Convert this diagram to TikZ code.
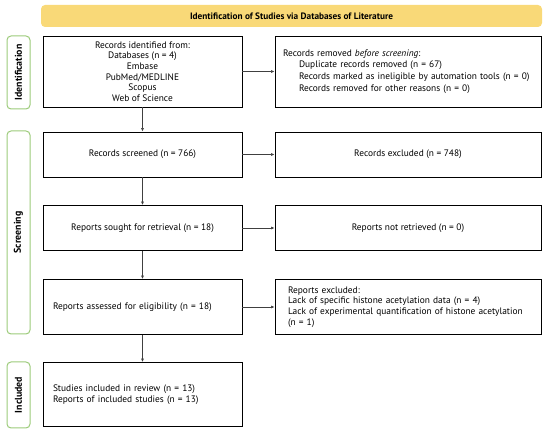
\documentclass[tikz,border=0pt]{standalone}
\usepackage{fontspec}
\setmainfont{PT Sans}
\usetikzlibrary{arrows.meta}
\definecolor{hdr}{HTML}{F9D978}
\definecolor{grn}{HTML}{9CCB7A}
\definecolor{arr}{HTML}{404040}
\newlength\mywa
\newlength\mywb
\newlength\mywc
\newlength\mywd
\begin{document}
\settowidth\mywa{\fontsize{10}{12}\selectfont Records marked as ineligible by automation tools (n = 0)}%
\settowidth\mywb{\fontsize{10}{12}\selectfont Lack of experimental quantification of histone acetylation}%
\settowidth\mywc{\fontsize{10}{12}\selectfont\bfseries Identification of Studies via Databases of Literature}%
\settowidth\mywd{\fontsize{10}{12}\selectfont\bfseries Identification}%
\pgfmathsetmacro\fsmain{10*(227+229)/(\mywa+\mywb)}%
\pgfmathsetmacro\fshdr{10*203/\mywc}%
\pgfmathsetmacro\fslbl{10*56/\mywd}%
\begin{tikzpicture}[x=1pt,y=-1pt]
\tikzset{
  txt/.style={font=\fontsize{\fsmain}{10.6}\selectfont},
  box/.style={draw=black, line width=0.9pt, rectangle, anchor=center, inner sep=0pt, txt},
  lbl/.style={draw=grn, line width=1pt, rounded corners=4pt, fill=white, inner sep=0pt},
  lbltext/.style={rotate=90, inner sep=0pt, font=\fontsize{\fslbl}{12}\selectfont\bfseries},
  conn/.style={draw=arr, line width=0.6pt, -{Latex[length=3.5pt,width=3pt]}}}
\useasboundingbox (0,0) rectangle (550,438);
% header
\node[fill=hdr, rounded corners=4pt, minimum width=501pt, minimum height=22pt, anchor=center, inner sep=0pt,
      font=\fontsize{\fshdr}{12}\selectfont\bfseries] (hdr) at (291.5,16) {Identification of Studies via Databases of Literature};
% stage labels
\node[lbl, minimum width=23pt, minimum height=73pt] (lid) at (18.5,72.5) {};
\node[lbltext] (lidt) at (lid.center) {Identification};
\node[lbl, minimum width=23pt, minimum height=203pt] (lsc) at (18.5,232.5) {};
\node[lbltext] (lsct) at (lsc.center) {Screening};
\node[lbl, minimum width=23pt, minimum height=66pt] (lin) at (18.5,395) {};
\node[lbltext] (lint) at (lin.center) {Included};
% left column
\node[box, minimum width=199pt, minimum height=71pt, align=center] (b1) at (142.5,71.5)
  {Records identified from:\\Databases (n = 4)\\Embase\\PubMed/MEDLINE\\Scopus\\Web of Science};
\node[box, minimum width=199pt, minimum height=45pt] (b2) at (142.5,154.5) {Records screened (n = 766)};
\node[box, minimum width=199pt, minimum height=45pt] (b3) at (142.5,228) {Reports sought for retrieval (n = 18)};
\node[box, minimum width=199pt, minimum height=55pt, text width=179pt, align=left] (b4) at (142.5,307)
  {Reports assessed for eligibility (n = 18)};
\node[box, minimum width=199pt, minimum height=64pt, text width=179pt, align=left] (b5) at (142.5,394.5)
  {Studies included in review (n = 13)\\Reports of included studies (n = 13)};
% right column
\node[box, minimum width=266pt, minimum height=71pt, text width=250pt, align=left,
      font=\fontsize{\fsmain}{11.8}\selectfont] (r1) at (408,71.5)
  {Records removed \textit{before screening}:\\
   \hspace*{16pt}Duplicate records removed (n = 67)\\
   \hspace*{16pt}Records marked as ineligible by automation tools (n = 0)\\
   \hspace*{16pt}Records removed for other reasons (n = 0)};
\node[box, minimum width=266pt, minimum height=45pt] (r2) at (408,154.5) {Records excluded (n = 748)};
\node[box, minimum width=266pt, minimum height=45pt] (r3) at (408,228) {Reports not retrieved (n = 0)};
\node[box, minimum width=266pt, minimum height=55pt, text width=240pt, align=left] (r4) at (408,307)
  {Reports excluded:\\Lack of specific histone acetylation data (n = 4)\\Lack of experimental quantification of histone acetylation\\(n = 1)};
% connectors
\draw[conn] (b1) -- (r1);
\draw[conn] (b2) -- (r2);
\draw[conn] (b3) -- (r3);
\draw[conn] (b4) -- (r4);
\draw[conn] (b1) -- (b2);
\draw[conn] (b2) -- (b3);
\draw[conn] (b3) -- (b4);
\draw[conn] (b4) -- (b5);
\end{tikzpicture}
\end{document}
